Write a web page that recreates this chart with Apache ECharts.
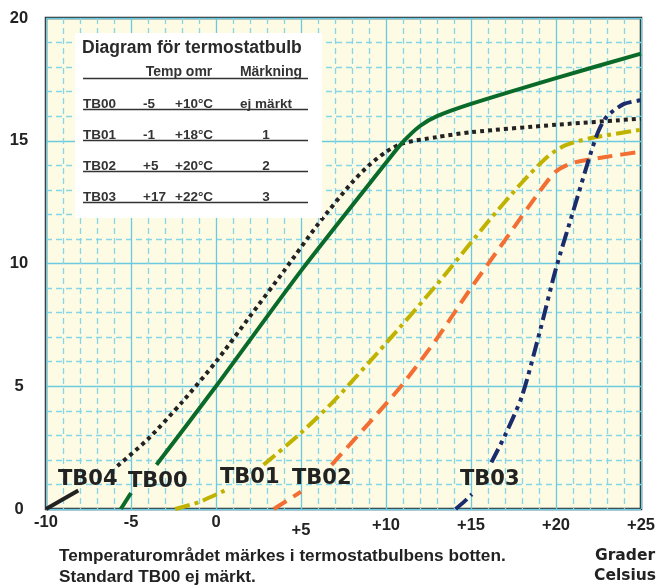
<!DOCTYPE html>
<html>
<head>
<meta charset="utf-8">
<script src="https://cdn.jsdelivr.net/npm/echarts@6/dist/echarts.min.js"></script>
<style>
html, body { margin: 0; padding: 0; background: #fff; }
#chart { width: 662px; height: 585px; }
</style>
</head>
<body>
<div id="chart"></div>
<script>
// axes
var xMin = -10, xMax = 25, yMin = 0, yMax = 20;

// curves, each one cut in two where its label sits
var tb04Low = [[-10, 0], [-8.1, 0.75]];
var tb04High = [[-5.8, 1.75], [-4, 2.85], [-2, 4.35], [0, 6.0], [2, 7.85], [4, 9.7], [6, 11.6], [8, 13.3], [9, 14.0], [10, 14.55], [11, 14.9], [13, 15.15], [15, 15.35], [20, 15.65], [25, 15.9]];
var tb00Low = [[-5.6, 0], [-5, 0.65]];
var tb00High = [[-3.5, 1.8], [0, 5.0], [5, 9.7], [10, 14.1], [11, 14.95], [12, 15.6], [13, 16.0], [15, 16.5], [20, 17.55], [25, 18.55]];
var tb01Low = [[-2.4, 0], [-1, 0.28], [0.5, 0.75]];
var tb01High = [[2.8, 1.8], [5, 3.1], [7, 4.45], [10, 6.75], [13, 9.15], [16, 11.7], [18, 13.3], [19.5, 14.35], [20.5, 14.8], [22, 15.1], [25, 15.45]];
var tb02Low = [[3.4, 0], [5, 0.7]];
var tb02High = [[6.8, 1.8], [9, 3.5], [11, 5.1], [13, 6.95], [15, 9.0], [17, 10.95], [19, 12.9], [20, 13.75], [21, 14.1], [23, 14.35], [25, 14.55]];
var tb03Low = [[14.1, 0], [14.6, 0.3], [15.05, 0.6]];
var tb03High = [[16.2, 1.9], [17, 3.0], [18, 4.6], [19, 7.1], [20, 9.8], [21, 12.1], [22, 14.4], [22.5, 15.4], [23, 16.0], [24, 16.5], [25, 16.65]];

// table
var tableTitle = 'Diagram för termostatbulb';
var tableHead = ['Temp omr', 'Märkning'];
var tableNames = ['TB00', 'TB01', 'TB02', 'TB03'];
var tableFrom = ['-5', '-1', '+5', '+17'];
var tableTo = ['+10°C', '+18°C', '+20°C', '+22°C'];
var tableMark = ['ej märkt', '1', '2', '3'];

var curveLabels = ['TB04', 'TB00', 'TB01', 'TB02', 'TB03'];
var noteLines = ['Temperaturområdet märkes i termostatbulbens botten.', 'Standard TB00 ej märkt.'];
var unitLines = ['Grader', 'Celsius'];

var curves = [
    { name: 'TB04', parts: [tb04Low], color: '#222222', dash: 'solid' },
    { name: 'TB04', parts: [tb04High], color: '#222222', dash: [4, 4] },
    { name: 'TB00', parts: [tb00Low, tb00High], color: '#0a6a2a', dash: 'solid' },
    { name: 'TB01', parts: [tb01Low, tb01High], color: '#c0b200', dash: [15, 5, 4, 5] },
    { name: 'TB02', parts: [tb02Low, tb02High], color: '#f26e33', dash: [15, 8] },
    { name: 'TB03', parts: [tb03Low, tb03High], color: '#1a2c6c', dash: [15, 5, 4, 5, 4, 5] }
];

var series = [];
curves.forEach(function (c) {
    c.parts.forEach(function (p) {
        series.push({
            name: c.name,
            type: 'line',
            data: p,
            smooth: 0.25,
            showSymbol: false,
            lineStyle: { color: c.color, width: 4, type: c.dash, cap: 'butt' }
        });
    });
});

var font = 'Liberation Sans, Arial, sans-serif';
var gridBlue = '#6ccae0';

var graphics = [];
// table box
graphics.push({ type: 'rect', z: 100, shape: { x: 75, y: 33, width: 247, height: 185 }, style: { fill: '#ffffff' } });
graphics.push({ type: 'text', z: 101, x: 82, y: 48, style: { text: tableTitle, font: 'bold 17.5px ' + font, fill: '#2a2a2a', verticalAlign: 'middle' } });
graphics.push({ type: 'text', z: 101, x: 179, y: 72, style: { text: tableHead[0], font: 'bold 14px ' + font, fill: '#333', align: 'center', verticalAlign: 'middle' } });
graphics.push({ type: 'text', z: 101, x: 271, y: 72, style: { text: tableHead[1], font: 'bold 14px ' + font, fill: '#333', align: 'center', verticalAlign: 'middle' } });
graphics.push({ type: 'line', z: 101, shape: { x1: 83, y1: 78.5, x2: 308, y2: 78.5 }, style: { stroke: '#333', lineWidth: 1.3 } });
var rowY = [104, 135, 166, 197];
tableNames.forEach(function (n, i) {
    var y = rowY[i];
    graphics.push({ type: 'text', z: 101, x: 83, y: y, style: { text: n, font: 'bold 13.5px ' + font, fill: '#333', verticalAlign: 'middle' } });
    graphics.push({ type: 'text', z: 101, x: 143, y: y, style: { text: tableFrom[i], font: 'bold 13.5px ' + font, fill: '#333', verticalAlign: 'middle' } });
    graphics.push({ type: 'text', z: 101, x: 175, y: y, style: { text: tableTo[i], font: 'bold 13.5px ' + font, fill: '#333', verticalAlign: 'middle' } });
    graphics.push({ type: 'text', z: 101, x: 266, y: y, style: { text: tableMark[i], font: 'bold 13.5px ' + font, fill: '#333', align: 'center', verticalAlign: 'middle' } });
    graphics.push({ type: 'line', z: 101, shape: { x1: 83, y1: y + 5.5, x2: 308, y2: y + 5.5 }, style: { stroke: '#333', lineWidth: 1.3 } });
});

// labels along the bottom of the curves
var labelPos = [[58, 480], [128, 482], [220, 478], [292, 479], [460, 480]];
curveLabels.forEach(function (t, i) {
    graphics.push({ type: 'text', z: 90, x: labelPos[i][0], y: labelPos[i][1], style: { text: t, font: 'bold 21px DejaVu Sans, sans-serif', fill: '#222', verticalAlign: 'middle' } });
});

// notes under the chart
graphics.push({ type: 'text', x: 59, y: 556, style: { text: noteLines[0], font: 'bold 17.2px ' + font, fill: '#222', verticalAlign: 'middle' } });
graphics.push({ type: 'text', x: 59, y: 577, style: { text: noteLines[1], font: 'bold 17.2px ' + font, fill: '#222', verticalAlign: 'middle' } });
graphics.push({ type: 'text', x: 625, y: 556, style: { text: unitLines[0], font: 'bold 15.5px DejaVu Sans, sans-serif', fill: '#222', align: 'center', verticalAlign: 'middle' } });
graphics.push({ type: 'text', x: 625, y: 576, style: { text: unitLines[1], font: 'bold 15.5px DejaVu Sans, sans-serif', fill: '#222', align: 'center', verticalAlign: 'middle' } });

var labelBase = { fontFamily: font, fontWeight: 'bold', fontSize: 16.5, color: '#222' };

var option = {
    animation: false,
    backgroundColor: '#ffffff',
    grid: {
        left: 46, right: 21, top: 18, bottom: 76,
        show: true,
        backgroundColor: '#fdfbe3',
        borderColor: '#2b2b2b',
        borderWidth: 2.5
    },
    xAxis: {
        type: 'value',
        min: xMin, max: xMax, interval: 5,
        axisLine: { show: false },
        axisTick: { show: false },
        axisLabel: {
            margin: 5,
            fontFamily: font, fontWeight: 'bold', fontSize: 16.5, color: '#222',
            formatter: function (v) {
                if (v === 5) return '{f|+' + v + '}';
                if (v > 0) return '{p|+' + v + '}';
                return '{n|' + v + '}';
            },
            rich: {
                n: Object.assign({ padding: [0, 0, 0, 0] }, labelBase),
                p: Object.assign({ padding: [3, 0, 0, 0] }, labelBase),
                f: Object.assign({ padding: [8, 0, 0, 0] }, labelBase)
            }
        },
        splitLine: { show: true, lineStyle: { color: gridBlue, width: 1.3 } },
        minorTick: { show: false, splitNumber: 5 },
        minorSplitLine: { show: true, lineStyle: { color: '#88d5e7', width: 1.3, type: [6, 4] } }
    },
    yAxis: {
        type: 'value',
        min: yMin, max: yMax, interval: 5,
        axisLine: { show: false },
        axisTick: { show: false },
        axisLabel: {
            margin: 27, align: 'center',
            fontFamily: font, fontWeight: 'bold', fontSize: 16.5, color: '#222'
        },
        splitLine: { show: true, lineStyle: { color: gridBlue, width: 1.3 } },
        minorTick: { show: false, splitNumber: 5 },
        minorSplitLine: { show: true, lineStyle: { color: '#88d5e7', width: 1.3, type: [6, 4] } }
    },
    graphic: graphics,
    series: series
};

var myChart = echarts.init(document.getElementById('chart'));
myChart.setOption(option);
</script>
</body>
</html>
